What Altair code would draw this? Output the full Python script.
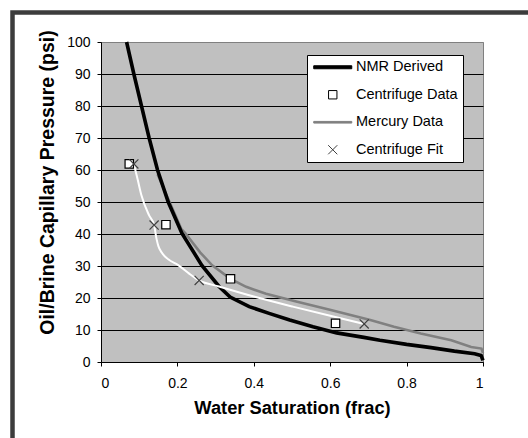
import altair as alt
import pandas as pd

# ---------------- data ----------------
series_names = ["NMR Derived", "Centrifuge Data", "Mercury Data", "Centrifuge Fit"]

nmr_sw = [0.067, 0.086, 0.106, 0.126, 0.148, 0.176, 0.212, 0.264, 0.309, 0.338,
          0.388, 0.44, 0.494, 0.555, 0.617, 0.688, 0.73, 0.80, 0.864, 0.925,
          0.978, 0.995, 1.0]
nmr_pc = [100, 90, 80, 70, 60, 50, 40.2, 30.2, 23.6, 20.3,
          17.3, 15.2, 13.1, 11.0, 9.1, 7.7, 6.8, 5.5, 4.5, 3.4,
          2.6, 2.0, 0.5]

merc_sw = [0.148, 0.172, 0.21, 0.221, 0.26, 0.291, 0.339, 0.38, 0.432, 0.511,
           0.599, 0.705, 0.767, 0.837, 0.917, 0.969, 0.996, 1.0]
merc_pc = [58.7, 52.0, 41.6, 40.2, 34.2, 30.2, 26.0, 23.5, 21.3, 18.9,
           16.3, 13.1, 11.0, 8.9, 6.8, 4.7, 4.2, 2.8]

cdata_sw = [0.074, 0.170, 0.339, 0.614]
cdata_pc = [61.9, 42.9, 26.0, 12.1]

cfit_sw = [0.086, 0.139, 0.257, 0.689]
cfit_pc = [61.9, 42.8, 25.5, 11.9]

fitline_sw = [0.086, 0.096, 0.106, 0.126, 0.139, 0.1455, 0.150, 0.159, 0.176,
              0.203, 0.23, 0.257, 0.309, 0.405, 0.502, 0.608, 0.689]
fitline_pc = [61.9, 57.0, 52.0, 45.8, 42.8, 38.4, 36.3, 34.2, 32.1,
              30.2, 27.7, 25.5, 23.6, 20.3, 17.3, 14.2, 11.9]

x_ticks = [0, 0.2, 0.4, 0.6, 0.8, 1]
y_ticks = [0, 10, 20, 30, 40, 50, 60, 70, 80, 90, 100]

# ---------------- tables ----------------
nmr_df = pd.DataFrame({"sw": nmr_sw, "pc": nmr_pc})
merc_df = pd.DataFrame({"sw": merc_sw, "pc": merc_pc})
fitline_df = pd.DataFrame({"sw": fitline_sw, "pc": fitline_pc})
pts_df = pd.concat([
    pd.DataFrame({"sw": cdata_sw, "pc": cdata_pc, "series": "Centrifuge Data"}),
    pd.DataFrame({"sw": cfit_sw, "pc": cfit_pc, "series": "Centrifuge Fit"}),
], ignore_index=True)

FONT = "Liberation Sans"

x_scale = alt.Scale(domain=[0, 1], nice=False, zero=False)
y_scale = alt.Scale(domain=[0, 100], nice=False)

x_axis = alt.Axis(values=x_ticks, format="~g", title="Water Saturation (frac)",
                  labelFont=FONT, labelFontSize=14, labelColor="black",
                  labelPadding=10, tickSize=4, tickColor="black",
                  domainColor="black", grid=False,
                  titleFont=FONT, titleFontSize=18.3, titleFontWeight="bold",
                  titleColor="black", titleY=51, titleBaseline="alphabetic")
y_axis = alt.Axis(values=y_ticks, format="d", labelOverlap=False,
                  title="Oil/Brine Capillary Pressure (psi)",
                  labelFont=FONT, labelFontSize=14, labelColor="black",
                  labelPadding=7, tickSize=4, tickColor="black",
                  domainColor="black", grid=True,
                  gridColor={"condition": {"test": "datum.value === 100", "value": "#808080"},
                             "value": "black"},
                  gridWidth=1,
                  titleFont=FONT, titleFontSize=19.5, titleFontWeight="bold",
                  titleColor="black", titleX=-47.5, titleY=140,
                  titleBaseline="alphabetic", titleAngle=270)

X = alt.X("sw:Q", scale=x_scale, axis=x_axis)
Y = alt.Y("pc:Q", scale=y_scale, axis=y_axis)

# symbol shapes: symbol size 144 -> 1 path unit = 6 px
nmr_sym = "M-3.17,-0.25L3.17,-0.25L3.17,0.25L-3.17,0.25Z"
merc_sym = "M-3.17,-0.14L3.17,-0.14L3.17,0.14L-3.17,0.14Z"
sq_sym = "M-0.7,-0.7L0.7,-0.7L0.7,0.7L-0.7,0.7Z"
x_sym = "M-0.76,-0.76L0.76,0.76M-0.76,0.76L0.76,-0.76"

legend_spec = alt.Legend(orient="none", legendX=206, legendY=13, title=None,
                         fillColor="white", strokeColor="black", padding=5,
                         rowPadding=12.5, symbolOffset=13.5, labelOffset=16,
                         labelFont=FONT, labelFontSize=14.5, labelColor="black",
                         symbolSize=144, symbolStrokeWidth=1)

frame = alt.Chart(alt.Data(values=[{}])).mark_rect(
    fill=None, stroke="#3c3c3c", strokeWidth=4.5
).encode(x=alt.value(-88.5), x2=alt.value(500), y=alt.value(-29.5), y2=alt.value(500))

merc = alt.Chart(merc_df).mark_line(color="#808080", strokeWidth=2.6).encode(x=X, y=Y)
nmr = alt.Chart(nmr_df).mark_line(color="black", strokeWidth=3.6).encode(x=X, y=Y)
fitline = alt.Chart(fitline_df).mark_line(color="white", strokeWidth=2,
                                          interpolate="monotone").encode(x=X, y=Y)

pts = alt.Chart(pts_df).mark_point(size=144, strokeWidth=1.2, opacity=1).encode(
    x=X, y=Y,
    shape=alt.Shape("series:N", scale=alt.Scale(domain=series_names,
                    range=[nmr_sym, sq_sym, merc_sym, x_sym]), legend=legend_spec),
    fill=alt.Fill("series:N", scale=alt.Scale(domain=series_names,
                  range=["black", "white", "#808080", "transparent"]), legend=legend_spec),
    stroke=alt.Stroke("series:N", scale=alt.Scale(domain=series_names,
                      range=["black", "black", "#808080", "#404040"]), legend=legend_spec),
)

chart = alt.layer(frame, merc, nmr, fitline, pts).properties(
    width=382, height=320,
    autosize=alt.AutoSizeParams(type="none"),
    padding={"left": 101, "top": 42, "right": 45, "bottom": 76},
    background="white",
).configure_view(fill="#C0C0C0", stroke="#808080", strokeWidth=1)

chart.save("out.html", embed_options={"renderer": "svg", "actions": False})
